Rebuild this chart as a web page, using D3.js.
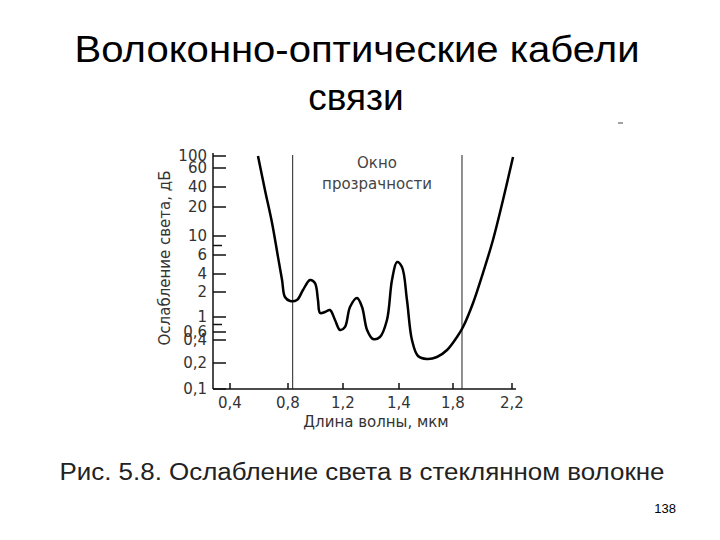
<!DOCTYPE html><html><head><meta charset="utf-8"><script src="https://cdn.jsdelivr.net/npm/d3@7"></script>
<style>body{margin:0;background:#fff}</style></head><body><svg id="c" width="720" height="540"></svg>
<script>
const yTicks=[0.1,0.2,0.4,0.6,1,2,4,6,10,20,40,60,100];
const yTickLabels=["0,1","0,2","0,4","0,6","1","2","4","6","10","20","40","60","100"];
const xTicks=[0.4,0.8,1.2,1.4,1.8,2.2];
const xTickLabels=["0,4","0,8","1,2","1,4","1,8","2,2"];
const wavelength=[0.593,0.641,0.690,0.731,0.759,0.779,0.815,0.865,0.909,0.960,0.996,1.018,1.033,1.069,1.105,1.142,1.178,1.207,1.225,1.250,1.268,1.286,1.307,1.332,1.357,1.375,1.393,1.422,1.459,1.496,1.541,1.607,1.681,1.756,1.827,1.868,1.936,2.003,2.071,2.139,2.207];
const attenuation=[100,37,14.5,5.8,3.33,1.8,1.64,1.68,2.22,3.33,3.0,1.68,1.16,1.2,1.28,0.92,0.653,0.733,1.4,1.76,1.4,0.653,0.425,0.475,0.92,3.33,5.26,4.74,1.68,0.4,0.261,0.235,0.252,0.313,0.475,0.733,1.56,4.1,9.16,27,96.7];
const windowEdges=[0.834,1.861];

const svg=d3.select("#c");
const F="Liberation Sans, Arial, sans-serif";
const F2="DejaVu Sans, sans-serif";
svg.append("text").attr("x",357).attr("y",62).attr("text-anchor","middle").attr("font-family",F).attr("font-size",37).attr("textLength",565).attr("lengthAdjust","spacingAndGlyphs").text("Волоконно-оптические кабели");
svg.append("text").attr("x",356).attr("y",110).attr("text-anchor","middle").attr("font-family",F).attr("font-size",37).text("связи");
svg.append("line").attr("x1",618).attr("x2",623).attr("y1",123).attr("y2",123).attr("stroke","#444");

const x=d3.scaleLinear().domain(xTicks).range([230,288,343,399,453,512]);
const y=d3.scaleLinear().domain(yTicks).range([389,363,340,332,317,292,274,255,236,207,187,168,156]);
const g=svg.append("g").attr("font-family",F2).attr("fill","#222");
g.append("line").attr("x1",213).attr("x2",213).attr("y1",153).attr("y2",389).attr("stroke","#111").attr("stroke-width",1.5);
g.append("line").attr("x1",213).attr("x2",516).attr("y1",389).attr("y2",389).attr("stroke","#111").attr("stroke-width",1.5);
yTicks.forEach((v,i)=>{
  g.append("line").attr("x1",213).attr("x2",226).attr("y1",y(v)).attr("y2",y(v)).attr("stroke","#111").attr("stroke-width",1.5);
  g.append("text").attr("x",207).attr("y",y(v)+5).attr("text-anchor","end").attr("font-size",15).attr("fill","#333").text(yTickLabels[i]);
});
[8,0.8].forEach(v=>g.append("line").attr("x1",213).attr("x2",222).attr("y1",y(v)).attr("y2",y(v)).attr("stroke","#111").attr("stroke-width",1.5));
xTicks.forEach((v,i)=>{
  g.append("line").attr("x1",x(v)).attr("x2",x(v)).attr("y1",389).attr("y2",383).attr("stroke","#111").attr("stroke-width",1.5);
  g.append("text").attr("x",x(v)).attr("y",408).attr("text-anchor","middle").attr("font-size",15).attr("fill","#333").text(xTickLabels[i]);
});
windowEdges.forEach(v=>g.append("line").attr("x1",x(v)).attr("x2",x(v)).attr("y1",155).attr("y2",389).attr("stroke","#222").attr("stroke-width",1));
g.append("text").attr("x",377).attr("y",168).attr("text-anchor","middle").attr("font-size",15).attr("fill","#444").text("Окно");
g.append("text").attr("x",377).attr("y",189).attr("text-anchor","middle").attr("font-size",15).attr("fill","#444").text("прозрачности");
g.append("text").attr("x",376).attr("y",427).attr("text-anchor","middle").attr("font-size",15).attr("fill","#333").text("Длина волны, мкм");
g.append("text").attr("transform","translate(170,258) rotate(-90)").attr("text-anchor","middle").attr("font-size",15).attr("fill","#333").text("Ослабление света, дБ");
const line=d3.line().x((d,i)=>x(wavelength[i])).y(d=>y(d)).curve(d3.curveCatmullRom);
g.append("path").attr("d",line(attenuation)).attr("fill","none").attr("stroke","#000").attr("stroke-width",2.5);
svg.append("text").attr("x",362).attr("y",480).attr("text-anchor","middle").attr("font-family",F).attr("font-size",23).attr("fill","#222").attr("textLength",605).attr("lengthAdjust","spacingAndGlyphs").text("Рис. 5.8. Ослабление света в стеклянном волокне");
svg.append("text").attr("x",676).attr("y",513).attr("text-anchor","end").attr("font-family",F).attr("font-size",13).text("138");
</script></body></html>
